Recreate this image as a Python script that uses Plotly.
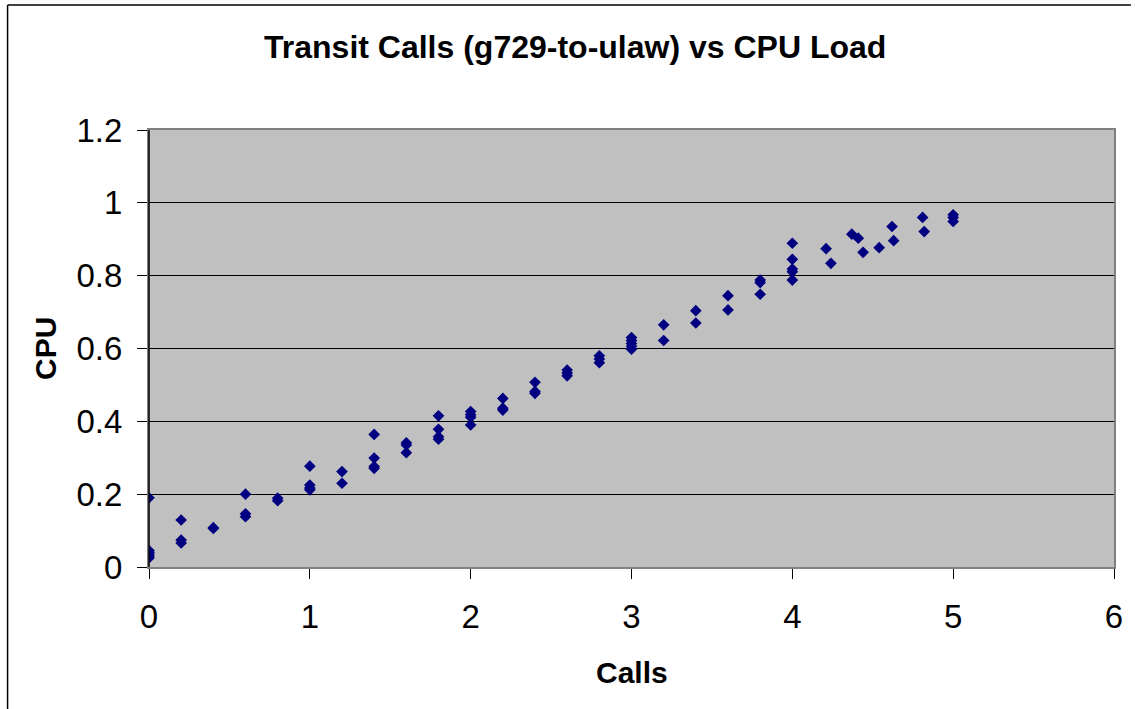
import plotly.graph_objects as go

calls = [0, 0, 0, 0, 0, 0,
         0.2, 0.2, 0.2,
         0.4, 0.4,
         0.6, 0.6, 0.6,
         0.8, 0.8,
         1.0, 1.0, 1.0, 1.0,
         1.2, 1.2,
         1.4, 1.4, 1.4, 1.4,
         1.6, 1.6, 1.6,
         1.8, 1.8, 1.8, 1.8,
         2.0, 2.0, 2.0, 2.0,
         2.2, 2.2, 2.2,
         2.4, 2.4, 2.4,
         2.6, 2.6, 2.6,
         2.8, 2.8, 2.8,
         3.0, 3.0, 3.0, 3.0, 3.0,
         3.2, 3.2,
         3.4, 3.4,
         3.6, 3.6,
         3.8, 3.8, 3.8,
         4.0, 4.0, 4.0, 4.0, 4.0,
         4.21, 4.24, 4.37, 4.41, 4.44, 4.54, 4.62, 4.63, 4.81, 4.82,
         5.0, 5.0, 5.0]
cpu = [0.19, 0.045, 0.04, 0.035, 0.03, 0.025,
       0.129, 0.074, 0.066,
       0.106, 0.108,
       0.200, 0.146, 0.138,
       0.189, 0.182,
       0.277, 0.225, 0.217, 0.212,
       0.262, 0.230,
       0.364, 0.299, 0.271, 0.276,
       0.341, 0.335, 0.314,
       0.415, 0.378, 0.358, 0.351,
       0.427, 0.418, 0.411, 0.390,
       0.463, 0.436, 0.431,
       0.507, 0.482, 0.477,
       0.541, 0.533, 0.525,
       0.580, 0.571, 0.561,
       0.630, 0.622, 0.614, 0.606, 0.598,
       0.665, 0.622,
       0.704, 0.670,
       0.745, 0.706,
       0.788, 0.781, 0.749,
       0.889, 0.845, 0.818, 0.811, 0.788,
       0.874, 0.834, 0.914, 0.903, 0.864, 0.877, 0.935, 0.896, 0.960, 0.921,
       0.967, 0.960, 0.949]

x_ticks = [0, 1, 2, 3, 4, 5, 6]
y_ticks = [0, 0.2, 0.4, 0.6, 0.8, 1, 1.2]
y_tick_labels = ["0", "0.2", "0.4", "0.6", "0.8", "1", "1.2"]

title_text = "Transit Calls (g729-to-ulaw) vs CPU Load"
x_title = "Calls"
y_title = "CPU"

FONT = "Liberation Sans, Arial, sans-serif"
W, H = 1135, 709
L, R, T, B = 149, 17, 130, 142
pw, ph = W - L - R, H - T - B


def px_x(x):
    return (x - L) / pw


def px_y(y):
    return (H - B - y) / ph


fig = go.Figure()
fig.add_trace(go.Scatter(
    x=calls, y=cpu, mode="markers",
    marker=dict(symbol="diamond", size=9, color="#000080", line=dict(width=0)),
    showlegend=False, hoverinfo="x+y"))

fig.update_layout(
    width=W, height=H, autosize=False,
    margin=dict(l=L, r=R, t=T, b=B, pad=0),
    paper_bgcolor="white", plot_bgcolor="#C0C0C0",
    font=dict(family=FONT, color="black", size=33),
    xaxis=dict(range=[0, 6], tickvals=x_ticks, ticktext=[str(v) for v in x_ticks],
               showgrid=False, zeroline=False,
               showline=True, linecolor="#808080", linewidth=2, mirror=True,
               ticks="outside", ticklen=10, tickcolor="black", tickwidth=1,
               ticklabelstandoff=9, ticklabeloverflow="allow", tickfont=dict(size=33)),
    yaxis=dict(range=[0, 1.2], tickvals=y_ticks, ticktext=y_tick_labels,
               showgrid=True, gridcolor="black", gridwidth=1, zeroline=False,
               showline=True, linecolor="#808080", linewidth=2, mirror=True,
               ticks="outside", ticklen=10, tickcolor="black", tickwidth=1,
               ticklabelstandoff=8, ticklabeloverflow="allow", tickfont=dict(size=33)),
    shapes=[
        dict(type="line", xref="paper", yref="paper", x0=0, x1=0, y0=0, y1=1,
             line=dict(color="black", width=1.5), layer="above"),
        # chart area border (top and left edges are visible)
        dict(type="line", xref="paper", yref="paper",
             x0=px_x(7), x1=px_x(W), y0=px_y(5), y1=px_y(5),
             line=dict(color="black", width=1.5)),
        dict(type="line", xref="paper", yref="paper",
             x0=px_x(7), x1=px_x(7), y0=px_y(5), y1=px_y(H),
             line=dict(color="black", width=1.5)),
    ],
    annotations=[
        dict(text="<b>" + title_text + "</b>", xref="paper", yref="paper",
             x=px_x(576.5), y=px_y(47), xanchor="center", yanchor="middle",
             showarrow=False, font=dict(size=32, family=FONT)),
        dict(text="<b>" + x_title + "</b>", xref="paper", yref="paper",
             x=0.5, y=px_y(672), xanchor="center", yanchor="middle",
             showarrow=False, font=dict(size=30, family=FONT)),
        dict(text="<b>" + y_title + "</b>", xref="paper", yref="paper",
             x=px_x(45), y=0.5, xanchor="center", yanchor="middle", textangle=-90,
             showarrow=False, font=dict(size=30, family=FONT)),
    ],
)

# remove the page's default body margin and scrollbars so the figure sits at (0, 0)
post = ("document.documentElement.style.overflow='hidden';"
        "document.body.style.margin='0';"
        "document.body.style.overflow='hidden';")

fig.write_html("out.html", config={"responsive": False, "displayModeBar": False},
               post_script=post)
